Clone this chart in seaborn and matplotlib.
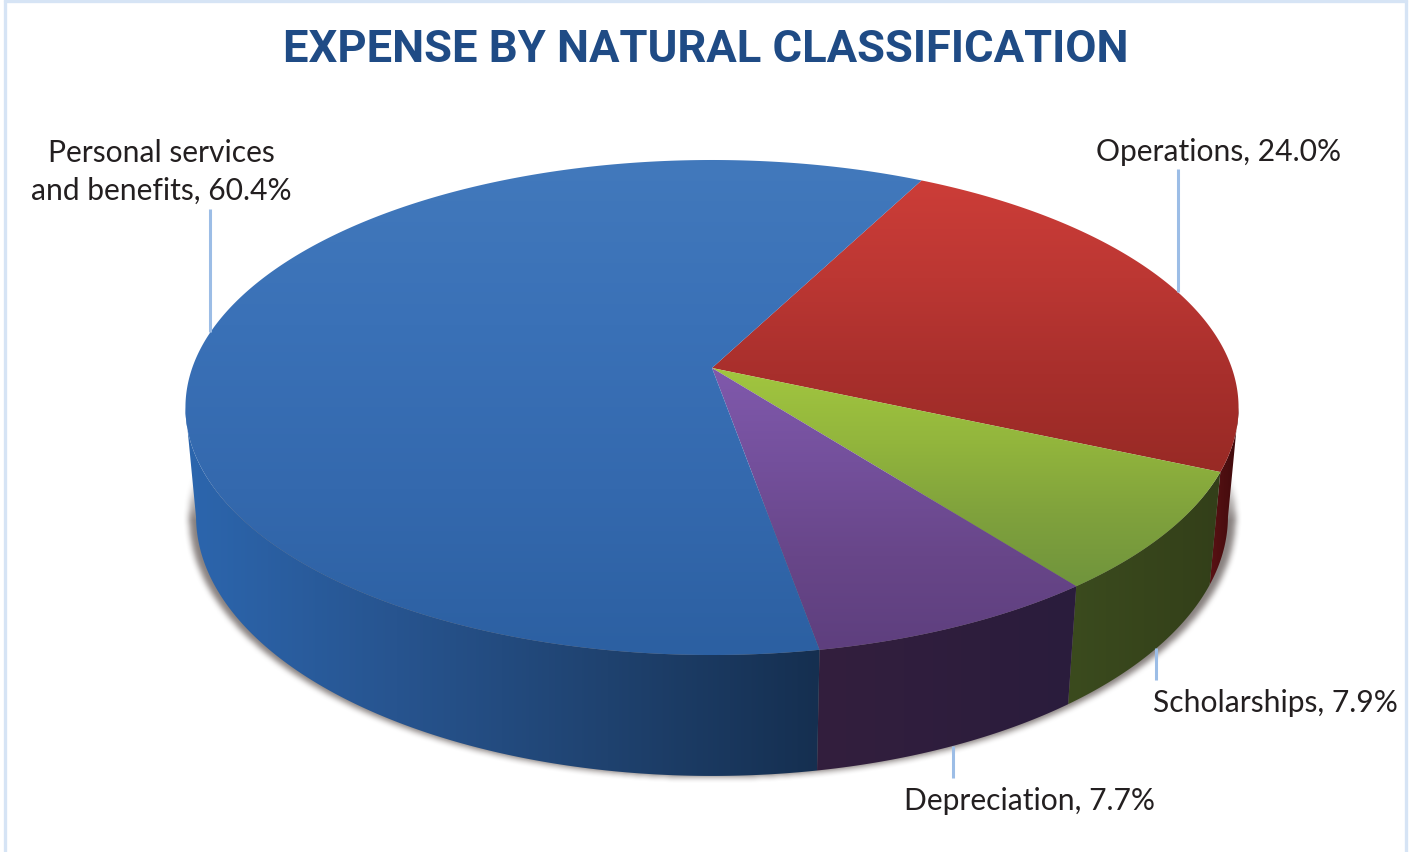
import numpy as np
import matplotlib
matplotlib.use("Agg")
import matplotlib.pyplot as plt
from matplotlib.patches import Polygon
from matplotlib.path import Path
import seaborn as sns

sns.set_theme(style="white")

title = "EXPENSE BY NATURAL CLASSIFICATION"
categories = ["Personal services\nand benefits", "Operations", "Scholarships", "Depreciation"]
shares = [60.4, 24.0, 7.9, 7.7]

top_colors = [
    ["#4279BC", "#3A71B7", "#3469AE", "#2C60A2"],
    ["#CC3D38", "#BC3733", "#A82F2C", "#982A25"],
    ["#A2C63F", "#93B63D", "#80A23C", "#70943D"],
    ["#8059AC", "#74509C", "#684689", "#5E3F7E"],
]
wall_colors = [
    ["#2C66AE", "#27548F", "#1F426F", "#152F50"],
    ["#5A1214", "#3E0A0C"],
    ["#3B4B1E", "#333F19"],
    ["#331F3E", "#2A1C3C"],
]
label_pos = [(161, 172), (1219, 152), (1275, 703), (1029, 801)]
leader_ends = [209, 169, 680, 778]

# projection of the tilted disc
cx, cy = 712, 368
a, b, k = 519.8, 241.2, 0.1596
depth_m, depth_c = 0.02, 109.8
start_angle = 27.4
# angle where the rim turns away from the viewer
silhouette = np.degrees(np.arccos(-k))


def project(theta, z=0):
    t = np.radians(theta)
    u, v = np.sin(t), -np.cos(t)
    w = 1 - k * v + depth_m * z
    return cx + a * u / w, cy + (b * v + depth_c * z) / w


def arc(t0, t1, z=0):
    tt = np.linspace(t0, t1, max(int(abs(t1 - t0) * 3), 2))
    x, y = project(tt, z)
    return np.column_stack([x, y])


def fill_gradient(ax, pts, colors, horizontal=False):
    cmap = sns.blend_palette(colors, n_colors=256, as_cmap=True)
    x0, x1 = pts[:, 0].min(), pts[:, 0].max()
    y0, y1 = pts[:, 1].min(), pts[:, 1].max()
    grad = np.linspace(0, 1, 256).reshape(1, -1) if horizontal else np.linspace(0, 1, 256).reshape(-1, 1)
    im = ax.imshow(grad, cmap=cmap, extent=(x0, x1, y1, y0), aspect="auto", interpolation="bilinear", zorder=3)
    poly = Polygon(pts, closed=True, transform=ax.transData, fc="none", ec="none")
    ax.add_patch(poly)
    im.set_clip_path(poly)


def blur(mask, r):
    kernel = np.ones(2 * r + 1) / (2 * r + 1)
    for _ in range(2):
        mask = np.apply_along_axis(np.convolve, 0, mask, kernel, "same")
        mask = np.apply_along_axis(np.convolve, 1, mask, kernel, "same")
    return mask


fig = plt.figure(figsize=(14.09, 8.52), dpi=100, facecolor="white")
ax = fig.add_axes([0, 0, 1, 1])

# soft shadow under the disc
bottom = arc(0, 360, 1)
bottom[:, 0] = cx + (bottom[:, 0] - cx) * 1.014
gx, gy = np.meshgrid(np.arange(1409), np.arange(852))
mask = Path(bottom).contains_points(np.column_stack([gx.ravel(), gy.ravel() - 1])).reshape(gx.shape).astype(float)
mask = blur(mask, 3)
fade = np.clip((gy - 470) / 50, 0, 1)
rgba = np.zeros(gx.shape + (4,))
rgba[..., :3] = matplotlib.colors.to_rgb("#6B6260")
rgba[..., 3] = mask * fade * 0.8
ax.imshow(rgba, extent=(0, 1409, 852, 0), aspect="auto", zorder=2)

# slices run clockwise: operations, scholarships, depreciation, personal services
order = [1, 2, 3, 0]
t = start_angle
spans = {}
for i in order:
    spans[i] = (t, t + shares[i] * 3.6)
    t += shares[i] * 3.6

# walls first, top faces cover whatever is hidden
for i in order:
    t0, t1 = max(spans[i][0], silhouette), min(spans[i][1], 360 - silhouette)
    pts = np.vstack([arc(t0, t1, 0), arc(t1, t0, 1)])
    fill_gradient(ax, pts, wall_colors[i], horizontal=True)

for i in order:
    t0, t1 = spans[i]
    pts = np.vstack([[cx, cy], arc(t0, t1, 0)])
    fill_gradient(ax, pts, top_colors[i])

# leader lines and labels
for i in range(4):
    t0, t1 = spans[i]
    mid = (t0 + t1) / 2
    z = 1 if i in (2, 3) else 0
    lx, ly = project(mid, z)
    ax.plot([lx, lx], [ly, leader_ends[i]], color="#9CBDE6", lw=2.2, solid_capstyle="butt", zorder=4)
    ax.text(label_pos[i][0], label_pos[i][1], f"{categories[i]}, {shares[i]:.1f}%", ha="center", va="center",
            family="Lato", fontsize=21.6, color="#231F20", linespacing=1.42, zorder=5)

ax.text(706, 62, title, ha="center", va="baseline", family="Roboto", fontweight="bold",
        fontsize=32.7, color="#1F4B85", zorder=5)

# page frame
for xs, ys in [([5, 5], [0, 852]), ([1406, 1406], [0, 852]), ([5, 1406], [0.5, 0.5])]:
    ax.plot(xs, ys, color="#D6E4F5", lw=2.4, zorder=1)

ax.set_xlim(0, 1409)
ax.set_ylim(852, 0)
ax.axis("off")
sns.despine(ax=ax, left=True, bottom=True)
fig.savefig("out.png", dpi=100, facecolor="white")
